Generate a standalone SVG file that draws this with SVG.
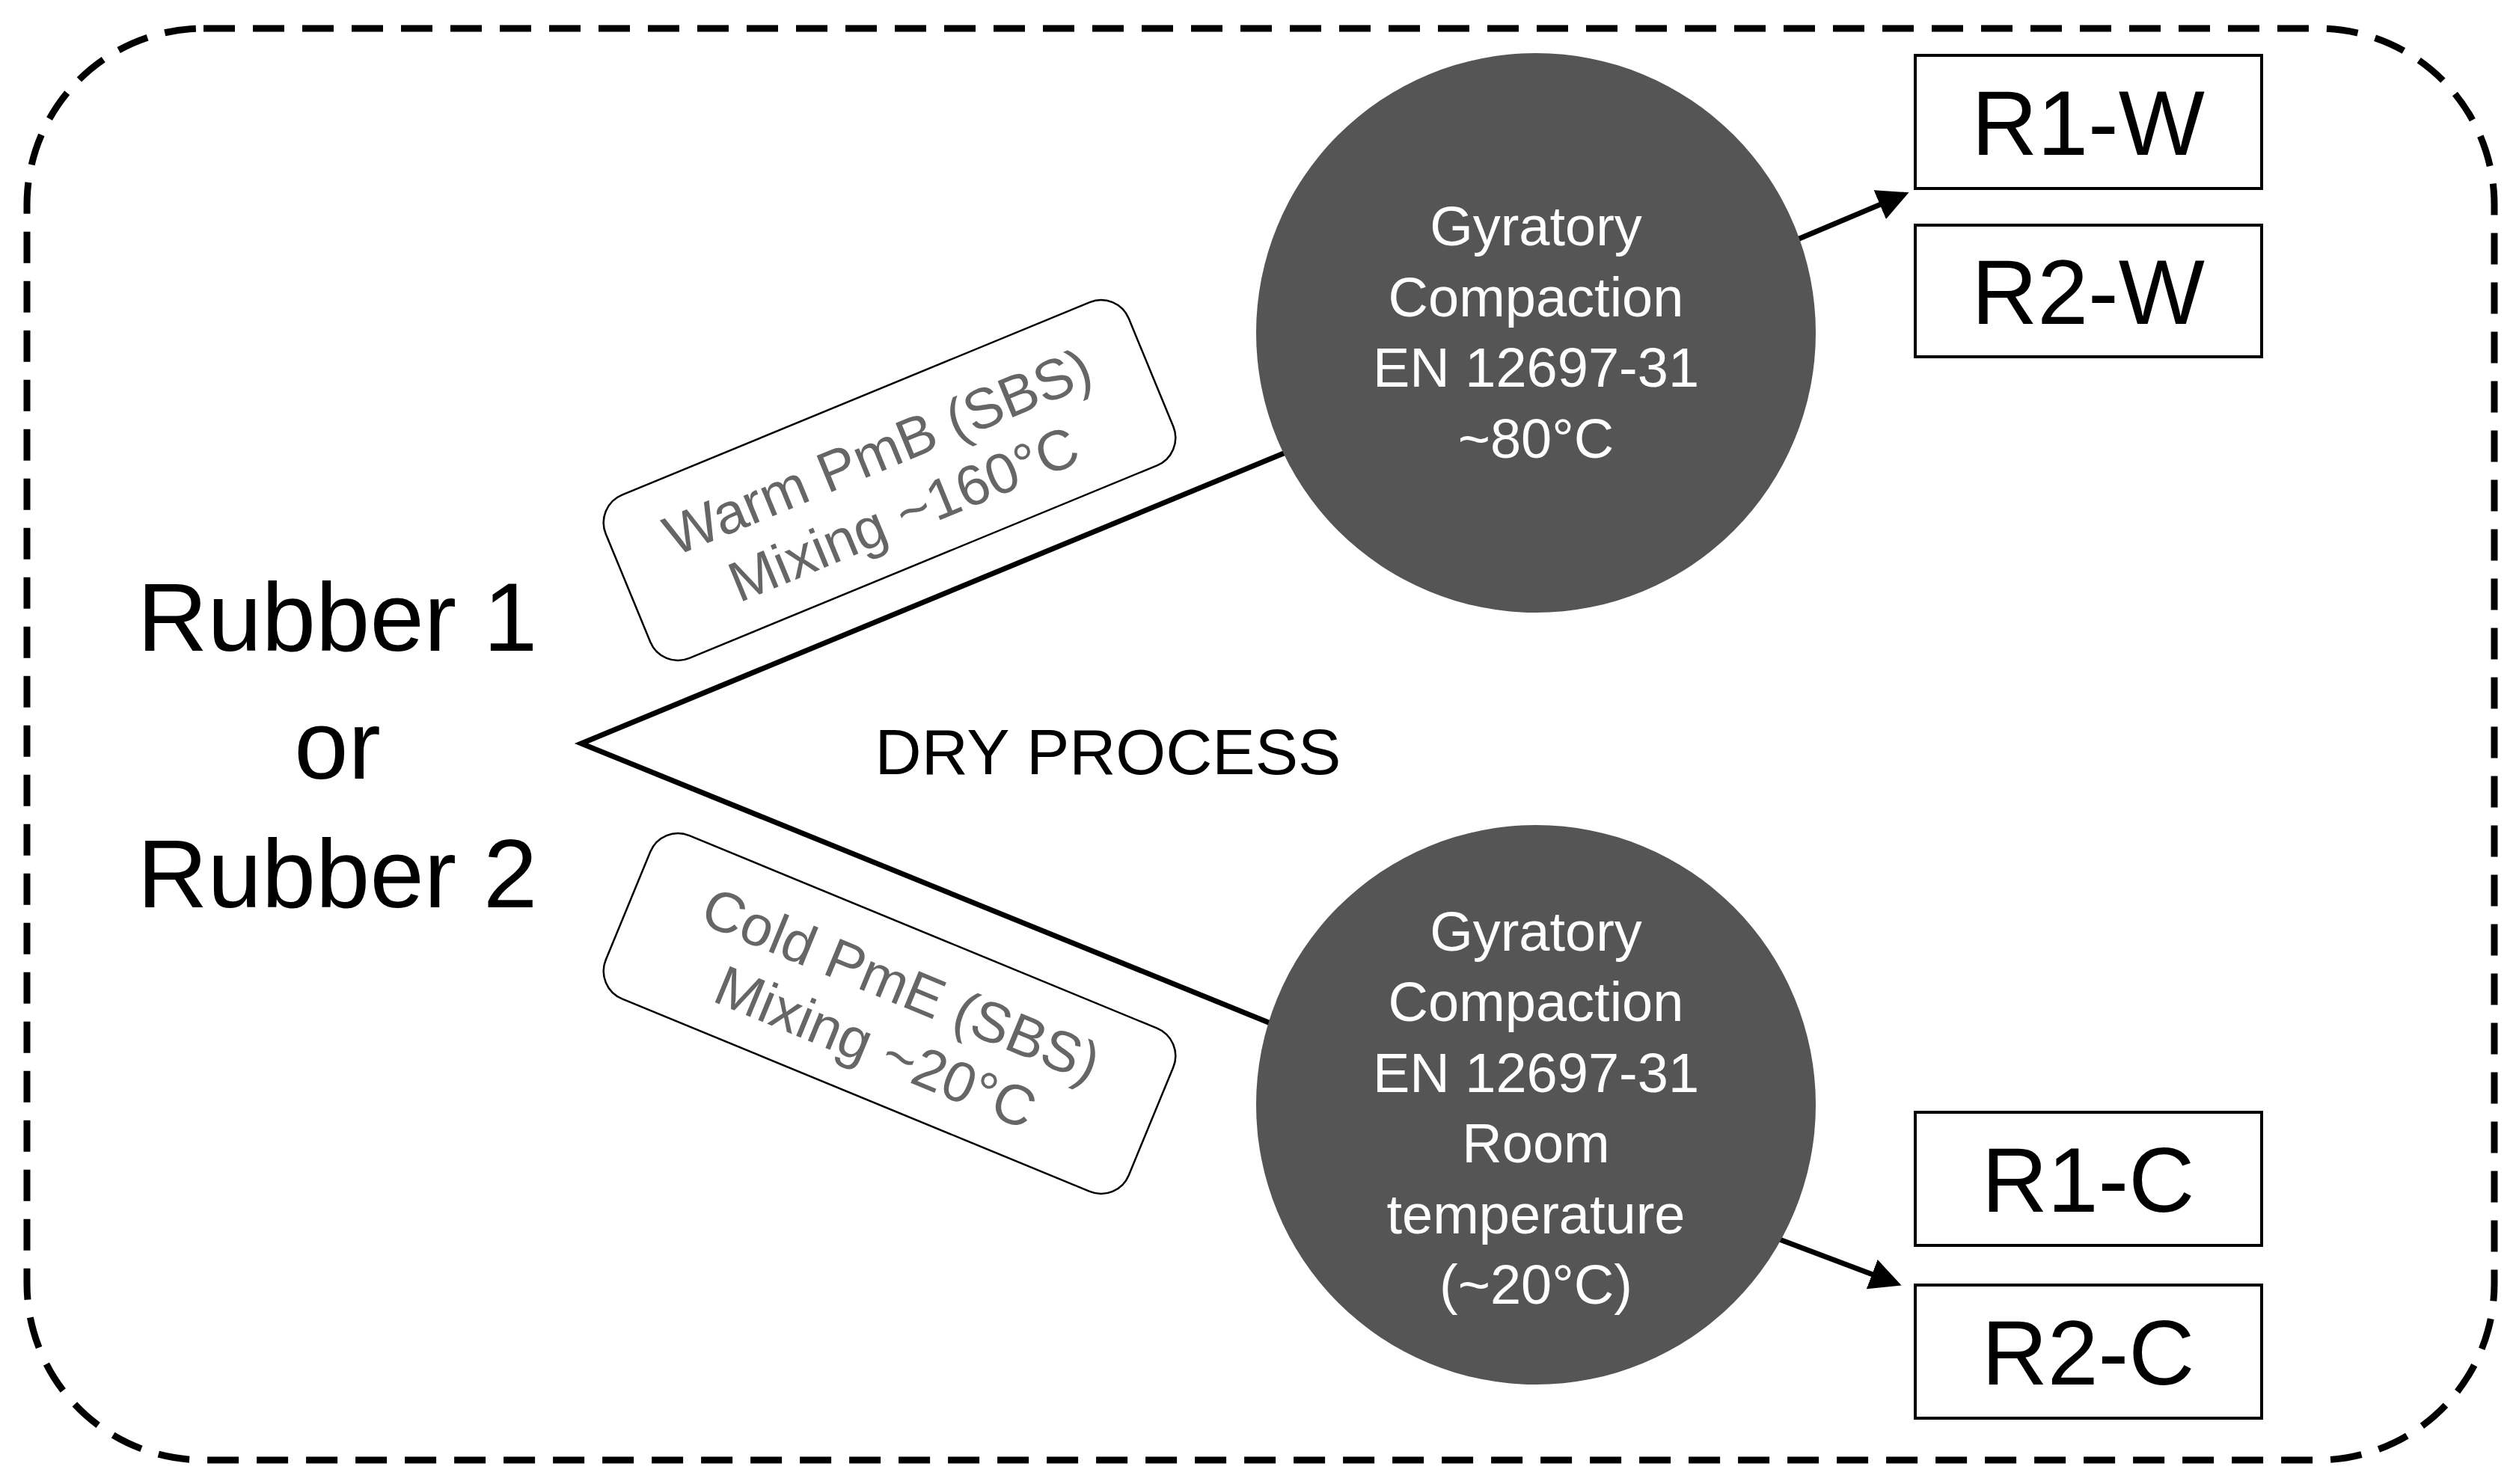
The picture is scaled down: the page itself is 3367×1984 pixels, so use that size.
<svg xmlns="http://www.w3.org/2000/svg" width="3367" height="1984" viewBox="0 0 3367 1984">
<style>
text{font-family:"Liberation Sans",Arial,sans-serif}
.c{fill:#555}
.ct{fill:#fff;font-size:74px;text-anchor:middle}
.b{fill:#fff;stroke:#000;stroke-width:4}
.bt{font-size:122px;text-anchor:middle}
.lab{fill:#fff;stroke:#000;stroke-width:2.5}
.lt{fill:#666;font-size:76px;text-anchor:middle}
.ln{stroke:#000;stroke-width:7;fill:none}
</style>
<defs><marker id="ah" markerWidth="6" markerHeight="6" refX="5" refY="3" orient="auto" markerUnits="strokeWidth"><path d="M0,0 L6,3 L0,6 z" fill="#000"/></marker></defs>
<rect x="36" y="38" width="3298" height="1914" rx="236" fill="none" stroke="#000" stroke-width="9" stroke-dasharray="42,24"/>
<g id="connectors">
<path class="ln" d="M1728,601 L777,994 L1703,1370"/>
<path class="ln" d="M2398,322 L2545,260" marker-end="url(#ah)"/>
<path class="ln" d="M2368,1653 L2535,1716" marker-end="url(#ah)"/>
</g>
<g id="rubber"><text font-size="130" text-anchor="middle"><tspan x="451" y="870">Rubber 1</tspan><tspan x="451" y="1041">or</tspan><tspan x="451" y="1213">Rubber 2</tspan></text></g>
<g id="dry"><text x="1481" y="1035" font-size="86" text-anchor="middle">DRY PROCESS</text></g>
<g id="warm" transform="translate(1189,642) rotate(-22.4)"><rect class="lab" x="-378" y="-118" width="756" height="236" rx="40"/><text class="lt"><tspan x="0" y="-15">Warm PmB (SBS)</tspan><tspan x="0" y="75">Mixing ~160°C</tspan></text></g>
<g id="cold" transform="translate(1189,1355) rotate(22.4)"><rect class="lab" x="-378" y="-118" width="756" height="236" rx="40"/><text class="lt"><tspan x="0" y="-15">Cold PmE (SBS)</tspan><tspan x="0" y="75">Mixing ~20°C</tspan></text></g>
<g id="gyr1"><circle class="c" cx="2053" cy="445" r="374"/><text class="ct"><tspan x="2053" y="328">Gyratory</tspan><tspan x="2053" y="423">Compaction</tspan><tspan x="2053" y="517">EN 12697-31</tspan><tspan x="2053" y="612">~80°C</tspan></text></g>
<g id="gyr2"><circle class="c" cx="2053" cy="1477" r="374"/><text class="ct"><tspan x="2053" y="1271">Gyratory</tspan><tspan x="2053" y="1365">Compaction</tspan><tspan x="2053" y="1460">EN 12697-31</tspan><tspan x="2053" y="1554">Room</tspan><tspan x="2053" y="1649">temperature</tspan><tspan x="2053" y="1743">(~20°C)</tspan></text></g>
<g id="r1w"><rect class="b" x="2560" y="74" width="463" height="178"/><text class="bt" x="2791" y="207">R1-W</text></g>
<g id="r2w"><rect class="b" x="2560" y="301" width="463" height="176"/><text class="bt" x="2791" y="433">R2-W</text></g>
<g id="r1c"><rect class="b" x="2560" y="1487" width="463" height="178"/><text class="bt" x="2791" y="1620">R1-C</text></g>
<g id="r2c"><rect class="b" x="2560" y="1718" width="463" height="178"/><text class="bt" x="2791" y="1851">R2-C</text></g>
</svg>
